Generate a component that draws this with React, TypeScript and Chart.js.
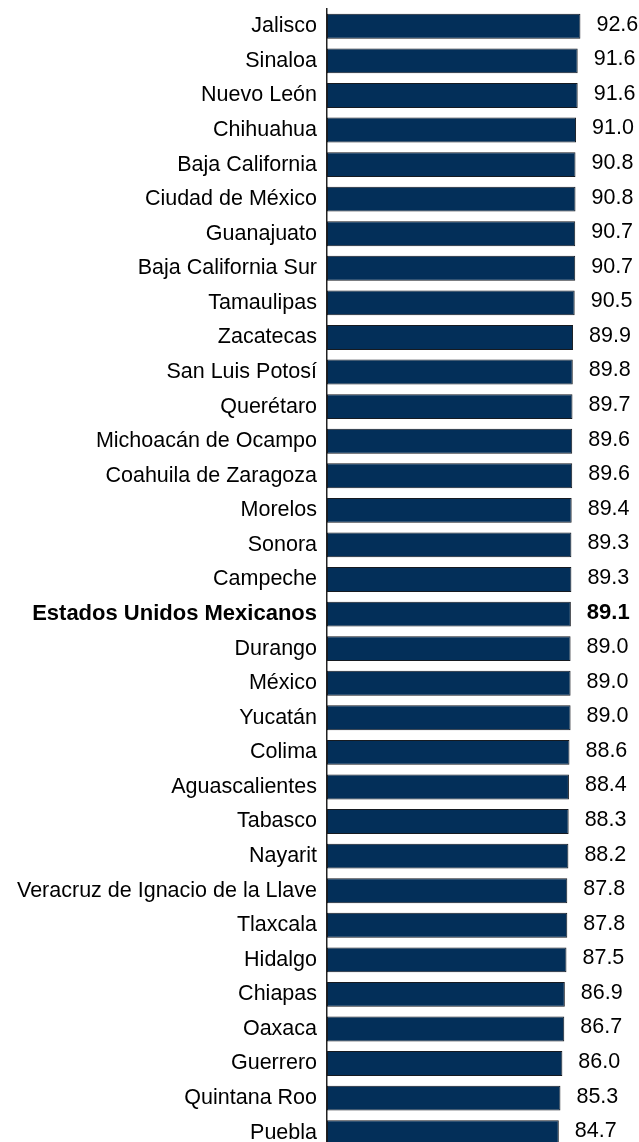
import React, { useEffect, useRef } from "react";
import { Chart, registerables } from "chart.js";

Chart.register(...registerables);

const categories: string[] = [
  "Jalisco",
  "Sinaloa",
  "Nuevo León",
  "Chihuahua",
  "Baja California",
  "Ciudad de México",
  "Guanajuato",
  "Baja California Sur",
  "Tamaulipas",
  "Zacatecas",
  "San Luis Potosí",
  "Querétaro",
  "Michoacán de Ocampo",
  "Coahuila de Zaragoza",
  "Morelos",
  "Sonora",
  "Campeche",
  "Estados Unidos Mexicanos",
  "Durango",
  "México",
  "Yucatán",
  "Colima",
  "Aguascalientes",
  "Tabasco",
  "Nayarit",
  "Veracruz de Ignacio de la Llave",
  "Tlaxcala",
  "Hidalgo",
  "Chiapas",
  "Oaxaca",
  "Guerrero",
  "Quintana Roo",
  "Puebla",
];

const values: number[] = [
  92.6, 91.6, 91.6, 91.0, 90.8, 90.8, 90.7, 90.7, 90.5, 89.9, 89.8, 89.7,
  89.6, 89.6, 89.4, 89.3, 89.3, 89.1, 89.0, 89.0, 89.0, 88.6, 88.4, 88.3,
  88.2, 87.8, 87.8, 87.5, 86.9, 86.7, 86.0, 85.3, 84.7,
];

const highlightLabel = "Estados Unidos Mexicanos";

const FONT_FAMILY = "'Liberation Sans', Arial, sans-serif";
const FONT_SIZE = 21.5;
const BOLD_SIZE = 22;

const valueLabelPlugin = {
  id: "valueLabels",
  afterDatasetsDraw(chart: any) {
    const ctx = chart.ctx;
    const meta = chart.getDatasetMeta(0);
    ctx.save();
    ctx.fillStyle = "#000";
    ctx.textAlign = "left";
    ctx.textBaseline = "middle";
    meta.data.forEach((bar: any, i: number) => {
      const bold = categories[i] === highlightLabel;
      ctx.font = bold
        ? `bold ${BOLD_SIZE}px ${FONT_FAMILY}`
        : `${FONT_SIZE}px ${FONT_FAMILY}`;
      ctx.fillText(values[i].toFixed(1), bar.x + 16, bar.y - 1.5);
    });
    ctx.restore();
  },
};

export default function App() {
  const canvasRef = useRef<HTMLCanvasElement | null>(null);

  useEffect(() => {
    document.body.style.margin = "0";
    document.body.style.overflow = "hidden";
    document.documentElement.style.overflow = "hidden";
    const canvas = canvasRef.current;
    if (!canvas) return;
    const chart = new Chart(canvas, {
      type: "bar",
      data: {
        labels: categories,
        datasets: [
          {
            data: values,
            backgroundColor: "#032F59",
            borderColor: "#161a20",
            borderWidth: 1,
            borderSkipped: false,
            barPercentage: 0.72,
            categoryPercentage: 1,
          },
        ],
      },
      options: {
        indexAxis: "y",
        responsive: false,
        animation: false,
        layout: { padding: { top: 9, bottom: 0, left: 0, right: 0 } },
        plugins: {
          legend: { display: false },
          tooltip: { enabled: false },
          title: { display: false },
        },
        scales: {
          x: {
            display: false,
            min: 0,
            max: 114,
          },
          y: {
            afterFit: (scale: any) => {
              scale.width = 327;
              scale.paddingTop = 0;
              scale.paddingBottom = 0;
            },
            grid: {
              display: true,
              drawOnChartArea: false,
              drawTicks: false,
            },
            border: { display: true, color: "#222", width: 1.5 },
            ticks: {
              padding: 10,
              color: "#000",
              autoSkip: false,
              font: (c: any) =>
                categories[c.index] === highlightLabel
                  ? { family: FONT_FAMILY, size: BOLD_SIZE, weight: "bold" }
                  : { family: FONT_FAMILY, size: FONT_SIZE, weight: "normal" },
            },
          },
        },
      },
      plugins: [valueLabelPlugin],
    });
    return () => chart.destroy();
  }, []);

  return (
    <div style={{ position: "fixed", top: 0, left: 0, width: 639, height: 1150 }}>
      <canvas ref={canvasRef} width={639} height={1150} style={{ display: "block" }} />
    </div>
  );
}
